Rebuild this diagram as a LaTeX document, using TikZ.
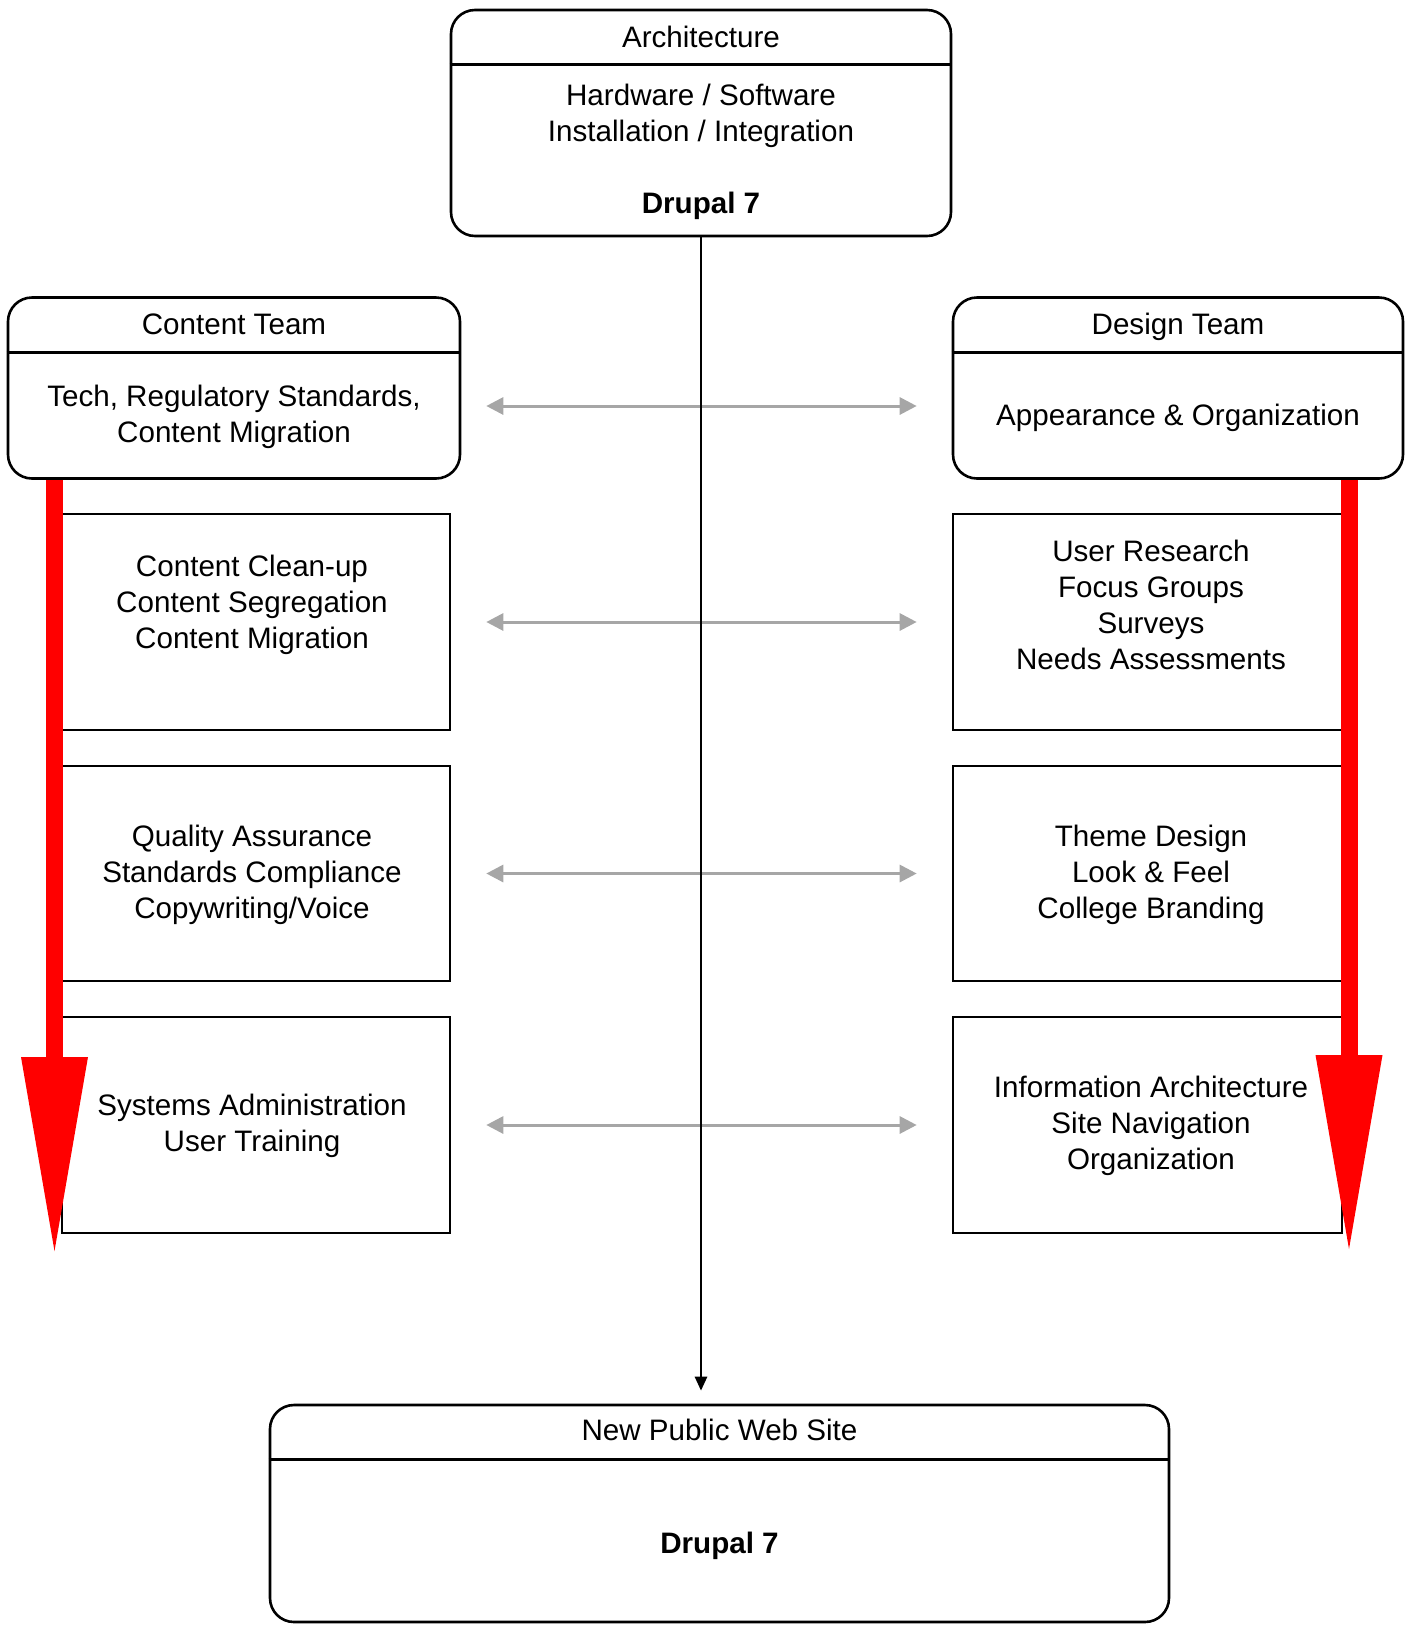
\documentclass[tikz,border=0pt]{standalone}
\usepackage{fontspec}
\setmainfont{Liberation Sans}
\usetikzlibrary{arrows.meta}
\definecolor{linkgrey}{RGB}{166,166,166}

\begin{document}
\begin{tikzpicture}[x=1pt, y=-1pt]
	\tikzstyle{team} = [rectangle, rounded corners=24pt, draw=black, line width=2.6pt, inner sep=0pt]
	\tikzstyle{task} = [rectangle, draw=black, line width=2.6pt, inner sep=0pt]
	\tikzstyle{txt}  = [align=center, inner sep=0pt, font=\fontsize{29.6}{36}\selectfont]
	\tikzstyle{link} = [linkgrey, line width=3pt, {Triangle[width=17pt, length=17pt]}-{Triangle[width=17pt, length=17pt]}]
	\tikzstyle{flow} = [red, line width=17pt, -{Triangle[width=67pt, length=194pt, line width=0pt]}]
	\tikzstyle{main} = [black, line width=2.6pt, -{Triangle[width=12pt, length=14pt]}]

	\useasboundingbox (0,0) rectangle (1413,1626);

	% rounded boxes with a title bar
	\foreach \name/\x/\y/\w/\h in {arch/701/123/500/226, content/234/388/452/181, design/1178/388/450/181, web/719.5/1513.5/899/217}
	{
		\node[team, minimum width=\w pt, minimum height=\h pt] (\name) at (\x, \y) {};
		\draw[line width=2.6pt] ([yshift=-56pt]\name.north west) -- ([yshift=-56pt]\name.north east);
	}

	% task boxes
	\foreach \name/\x/\y/\w/\h in {lone/256/622/388/216, ltwo/256/873.5/388/215, lthree/256/1125/388/216, rone/1147.5/622/389/216, rtwo/1147.5/873.5/389/215, rthree/1147.5/1125/389/216}
		\node[task, minimum width=\w pt, minimum height=\h pt] (\name) at (\x, \y) {};

	% texts
	\node[txt] (archtitle) at (701, 37) {Architecture};
	\node[txt] (archbody) at (701, 116) {Hardware / Software\\Installation / Integration};
	\node[txt] (archcore) at (701, 206) {\textbf{Drupal 7}};
	\node[txt] (contenttitle) at (234, 324) {Content Team};
	\node[txt] (contentbody) at (234, 417) {Tech, Regulatory Standards,\\Content Migration};
	\node[txt] (designtitle) at (1178, 327) {Design Team};
	\node[txt] (designbody) at (1178, 418) {Appearance \& Organization};
	\node[txt] (lonetext) at (252, 605) {Content Clean-up\\Content Segregation\\Content Migration};
	\node[txt] (ltwotext) at (252, 875) {Quality Assurance\\Standards Compliance\\Copywriting/Voice};
	\node[txt] (lthreetext) at (252, 1126) {Systems Administration\\User Training};
	\node[txt] (ronetext) at (1151, 605) {User Research\\Focus Groups\\Surveys\\Needs Assessments};
	\node[txt] (rtwotext) at (1151, 875) {Theme Design\\Look \& Feel\\College Branding};
	\node[txt] (rthreetext) at (1151, 1126) {Information Architecture\\Site Navigation\\Organization};
	\node[txt] (webtitle) at (719.5, 1430) {New Public Web Site};
	\node[txt] (webcore) at (719.5, 1546) {\textbf{Drupal 7}};

	% grey links between the teams
	\foreach \from/\to/\dx/\dy in {content/design/25/-18, lone/rone/35/0, ltwo/rtwo/35/0, lthree/rthree/35/0}
		\draw[link] ([xshift=\dx pt, yshift=\dy pt]\from.east) -- ([xshift=-35pt, yshift=\dy pt]\to.west);

	% main line down to the web site
	\draw[main] (arch.south) -- (arch.south |- web.north) [shorten >=13pt];

	% red progress arrows
	\coordinate (ltip) at (54.5, 1251);
	\coordinate (rtip) at (1349, 1249);
	\draw[flow] (content.south -| ltip) -- (ltip);
	\draw[flow] (design.south -| rtip) -- (rtip);
\end{tikzpicture}
\end{document}
